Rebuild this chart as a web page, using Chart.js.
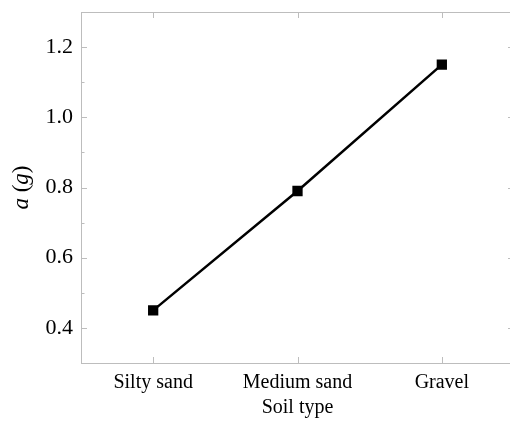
<!DOCTYPE html>
<html>
<head>
<meta charset="utf-8">
<script src="https://cdn.jsdelivr.net/npm/chart.js@4/dist/chart.umd.min.js"></script>
<style>
  html, body { margin: 0; padding: 0; background: #fff; overflow: hidden; }
  canvas { display: block; }
</style>
</head>
<body>
<canvas id="chart" width="522" height="428"></canvas>
<script>
// soil types and peak acceleration a (g)
let soilTypes = ["Silty sand", "Medium sand", "Gravel"];
let accel = [0.45, 0.79, 1.15];

let frameColor = "#bdbdbd";
let serif = "'Liberation Serif', 'Times New Roman', serif";

// frame box with inward ticks (major every 0.2, minor every 0.1)
let framePlugin = {
    id: "frame",
    afterDraw(chart) {
        let c = chart.ctx;
        let a = chart.chartArea;
        let x = chart.scales.x;
        let y = chart.scales.y;
        c.save();
        c.strokeStyle = frameColor;
        c.lineWidth = 1;
        c.strokeRect(a.left + 0.5, a.top + 0.5, a.right - a.left - 1, a.bottom - a.top);
        c.beginPath();
        y.ticks.forEach(t => {
            let py = Math.round(y.getPixelForValue(t.value)) + 0.5;
            let major = Math.round(t.value * 10) % 2 === 0;
            let len = major ? 6 : 3.5;
            c.moveTo(a.left, py); c.lineTo(a.left + len, py);
            c.moveTo(a.right, py); c.lineTo(a.right - len, py);
        });
        soilTypes.forEach((s, i) => {
            let px = Math.round(x.getPixelForValue(i)) + 0.5;
            c.moveTo(px, a.bottom); c.lineTo(px, a.bottom - 6);
            c.moveTo(px, a.top); c.lineTo(px, a.top + 6);
        });
        c.stroke();

        // y title with italic symbols
        c.fillStyle = "#000";
        c.translate(22, (a.top + a.bottom) / 2);
        c.rotate(-Math.PI / 2);
        c.textBaseline = "middle";
        let parts = [["a", "italic"], [" (", "normal"], ["g", "italic"], [")", "normal"]];
        let total = 0;
        parts.forEach(p => { c.font = p[1] + " 23px " + serif; total += c.measureText(p[0]).width; });
        let cx = -total / 2;
        parts.forEach(p => {
            c.font = p[1] + " 23px " + serif;
            c.fillText(p[0], cx, 0);
            cx += c.measureText(p[0]).width;
        });
        c.restore();
    }
};

let ctx = document.getElementById("chart").getContext("2d");

let chart = new Chart(ctx, {
    type: "line",
    data: {
        labels: soilTypes,
        datasets: [{
            data: accel,
            borderColor: "#000",
            backgroundColor: "#000",
            borderWidth: 2.5,
            pointStyle: "rect",
            pointRadius: 5.5,
            pointHoverRadius: 5.5,
            tension: 0,
        }]
    },
    options: {
        responsive: false,
        animation: false,
        layout: { padding: { top: 12, right: 0, left: 0, bottom: 0 } },
        plugins: { legend: { display: false }, tooltip: { enabled: false } },
        scales: {
            x: {
                offset: true,
                grid: { display: false, drawTicks: false },
                border: { display: false },
                ticks: { color: "#000", font: { family: serif, size: 20 }, padding: 8 },
                title: {
                    display: true, text: "Soil type", color: "#000",
                    font: { family: serif, size: 20 }, padding: { top: 0, bottom: 8 }
                },
                afterFit(scale) {
                    scale.height = 65;
                    scale.paddingLeft = 0;
                    scale.paddingRight = 0;
                }
            },
            y: {
                min: 0.3,
                max: 1.3,
                grid: { display: false, drawTicks: false },
                border: { display: false },
                ticks: {
                    stepSize: 0.1,
                    color: "#000",
                    font: { family: serif, size: 22 },
                    padding: 8,
                    autoSkip: false,
                    callback: v => Math.round(v * 10) % 2 === 0 ? v.toFixed(1) : ""
                },
                afterFit(scale) {
                    scale.width = 81;
                    scale.paddingTop = 0;
                    scale.paddingBottom = 0;
                }
            }
        }
    },
    plugins: [framePlugin]
});
</script>
</body>
</html>
